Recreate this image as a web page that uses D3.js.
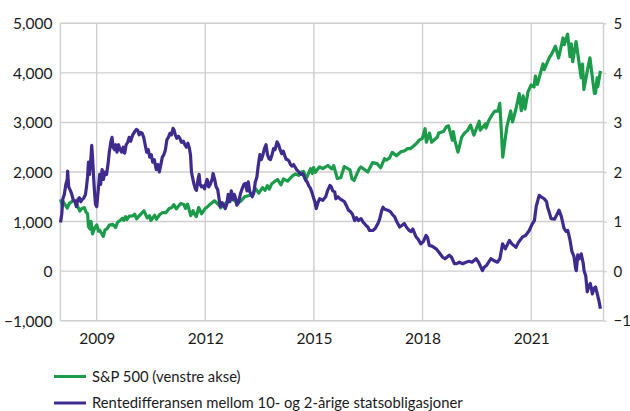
<!DOCTYPE html>
<html><head><meta charset="utf-8">
<script src="https://cdn.jsdelivr.net/npm/d3@7"></script>
<style>html,body{margin:0;padding:0;background:#fff}svg{display:block}text{font-family:Lato,"Open Sans",sans-serif;fill:#1a1a1a}</style>
</head><body><svg id="c" width="630" height="411"></svg>
<script>
const leftTicks = [-1000, 0, 1000, 2000, 3000, 4000, 5000];
const rightTicks = [-1, 0, 1, 2, 3, 4, 5];
const xTickYears = [2009, 2012, 2015, 2018, 2021];
const legendLabels = ["S&P 500 (venstre akse)", "Rentedifferansen mellom 10- og 2-årige statsobligasjoner"];

const spxDates = ["2008-01-02","2008-01-22","2008-02-01","2008-03-10","2008-04-01","2008-05-19","2008-06-01","2008-07-15","2008-08-01","2008-08-29","2008-09-15","2008-10-01","2008-10-10","2008-10-27","2008-11-04","2008-11-20","2008-12-01","2008-12-15",
"2009-01-02","2009-01-20","2009-02-01","2009-03-09","2009-03-26","2009-04-15","2009-05-08","2009-06-12","2009-07-10","2009-07-31","2009-08-28","2009-09-18","2009-10-02","2009-10-19","2009-11-02","2009-11-25","2009-12-31",
"2010-01-19","2010-02-08","2010-03-31","2010-04-23","2010-05-25","2010-06-18","2010-07-02","2010-08-09","2010-08-26","2010-09-30","2010-10-29","2010-11-30","2010-12-31",
"2011-01-31","2011-02-18","2011-03-16","2011-04-29","2011-05-31","2011-06-15","2011-07-07","2011-08-08","2011-08-31","2011-09-22","2011-10-03","2011-10-27","2011-11-25","2011-12-30",
"2012-01-31","2012-02-29","2012-04-02","2012-05-31","2012-06-04","2012-07-31","2012-08-31","2012-09-14","2012-10-31","2012-11-15","2012-12-31",
"2013-01-31","2013-02-28","2013-04-18","2013-05-21","2013-06-24","2013-07-31","2013-08-27","2013-09-18","2013-10-08","2013-10-31","2013-11-29","2013-12-31",
"2014-02-03","2014-02-28","2014-04-11","2014-05-30","2014-06-30","2014-07-31","2014-08-29","2014-09-19","2014-10-15","2014-11-28","2014-12-16","2014-12-29",
"2015-01-15","2015-02-27","2015-03-31","2015-05-21","2015-06-30","2015-07-20","2015-08-25","2015-09-29","2015-11-03","2015-12-31",
"2016-01-20","2016-02-11","2016-03-31","2016-04-20","2016-06-27","2016-08-15","2016-09-30","2016-11-04","2016-12-13","2016-12-30",
"2017-01-31","2017-03-01","2017-04-13","2017-05-31","2017-06-30","2017-07-31","2017-08-31","2017-09-29","2017-10-31","2017-11-30","2017-12-29",
"2018-01-26","2018-02-08","2018-03-12","2018-04-02","2018-05-31","2018-06-12","2018-07-31","2018-08-29","2018-09-20","2018-10-29","2018-11-07","2018-11-23","2018-12-24",
"2019-01-31","2019-02-28","2019-03-29","2019-04-30","2019-06-03","2019-07-26","2019-08-05","2019-09-30","2019-10-03","2019-10-31","2019-11-29","2019-12-31",
"2020-01-31","2020-02-19","2020-03-20","2020-04-30","2020-06-08","2020-06-26","2020-07-31","2020-09-02","2020-09-23","2020-10-12","2020-10-30","2020-11-30","2020-12-31",
"2021-01-29","2021-02-12","2021-03-04","2021-04-30","2021-05-12","2021-06-30","2021-07-30","2021-09-02","2021-10-04","2021-11-18","2021-11-30","2021-12-31",
"2022-01-03","2022-01-27","2022-02-09","2022-02-23","2022-03-29","2022-05-02","2022-05-20","2022-06-02","2022-06-16","2022-07-29","2022-08-16","2022-09-30","2022-10-12","2022-10-28","2022-11-03","2022-11-30"];
const spxValues = [1447,1310,1395,1273,1370,1426,1400,1214,1260,1282,1192,1160,899,848,1005,752,816,880,
931,805,825,700,832,852,929,946,879,987,1028,1068,1025,1097,1042,1110,1115,
1150,1056,1169,1217,1074,1117,1022,1127,1047,1141,1183,1180,1258,
1286,1343,1257,1363,1345,1265,1353,1119,1219,1129,1099,1285,1158,1257,
1312,1366,1419,1310,1278,1379,1406,1465,1412,1353,1426,
1498,1515,1541,1669,1573,1686,1630,1725,1655,1757,1806,1848,
1742,1859,1815,1924,1960,1931,2003,2011,1862,2068,1972,2090,
1992,2105,2068,2131,2063,2128,1868,1884,2109,2044,
1859,1829,2060,2102,2000,2190,2168,2085,2271,2239,
2279,2396,2329,2412,2423,2470,2471,2519,2575,2648,2674,
2873,2600,2786,2600,2705,2786,2816,2914,2931,2641,2814,2633,2400,
2704,2784,2834,2946,2744,3025,2844,2977,2887,3038,3141,3231,
3226,3386,2300,2912,3232,3009,3271,3580,3237,3535,3270,3622,3756,
3714,3934,3768,4181,4063,4298,4395,4537,4300,4704,4567,4766,
4780,4326,4587,4225,4632,4155,3901,4176,3667,4130,4305,3586,3590,3901,3720,4040];

const spreadDates = ["2008-01-02","2008-01-15","2008-01-25","2008-02-10","2008-02-25","2008-03-10","2008-03-14","2008-03-25","2008-04-10","2008-04-25","2008-05-10","2008-05-25","2008-06-10","2008-06-25","2008-07-10","2008-07-25","2008-08-10","2008-08-25","2008-09-10","2008-09-20","2008-10-01","2008-10-10","2008-10-20","2008-11-01","2008-11-12","2008-11-20","2008-12-01","2008-12-10","2008-12-20",
"2009-01-02","2009-01-15","2009-01-31","2009-02-10","2009-02-25","2009-03-10","2009-03-25","2009-04-10","2009-04-25","2009-05-08","2009-05-25","2009-06-05","2009-06-15","2009-06-30","2009-07-12","2009-07-25","2009-08-10","2009-08-25","2009-09-10","2009-09-25","2009-10-10","2009-10-25","2009-11-10","2009-11-25","2009-12-10","2009-12-31",
"2010-01-15","2010-02-05","2010-02-20","2010-03-05","2010-03-20","2010-04-05","2010-04-20","2010-05-05","2010-05-20","2010-06-05","2010-06-20","2010-07-05","2010-07-20","2010-08-05","2010-08-25","2010-09-10","2010-09-25","2010-10-10","2010-10-25","2010-11-10","2010-11-25","2010-12-10","2010-12-25",
"2011-01-10","2011-01-25","2011-02-10","2011-02-20","2011-03-05","2011-03-20","2011-04-05","2011-04-20","2011-05-05","2011-05-25","2011-06-10","2011-06-25","2011-07-10","2011-07-25","2011-08-05","2011-08-15","2011-08-25","2011-09-10","2011-09-25","2011-10-05","2011-10-20","2011-10-31","2011-11-10","2011-11-25","2011-12-10","2011-12-25",
"2012-01-05","2012-01-20","2012-02-05","2012-02-20","2012-03-10","2012-03-20","2012-04-05","2012-04-20","2012-05-05","2012-05-20","2012-06-01","2012-06-20","2012-07-05","2012-07-20","2012-08-05","2012-08-20","2012-09-05","2012-09-20","2012-10-05","2012-10-20","2012-11-05","2012-11-15","2012-12-01","2012-12-20",
"2013-01-05","2013-01-25","2013-02-10","2013-02-25","2013-03-10","2013-03-25","2013-04-10","2013-04-20","2013-05-05","2013-05-20","2013-06-05","2013-06-20","2013-07-05","2013-07-20","2013-08-05","2013-08-20","2013-09-05","2013-09-20","2013-10-05","2013-10-20","2013-11-05","2013-11-20","2013-12-05","2013-12-25",
"2014-01-10","2014-01-25","2014-02-10","2014-02-25","2014-03-10","2014-03-25","2014-04-10","2014-04-25","2014-05-10","2014-05-25","2014-06-10","2014-06-25","2014-07-10","2014-07-25","2014-08-10","2014-08-25","2014-09-10","2014-09-25","2014-10-10","2014-10-25","2014-11-10","2014-11-25","2014-12-10","2014-12-25",
"2015-01-10","2015-01-25","2015-02-10","2015-02-28","2015-04-01","2015-04-30","2015-05-20","2015-06-12","2015-06-25","2015-07-10","2015-07-30","2015-08-10","2015-09-01","2015-09-25","2015-10-15","2015-11-05","2015-11-25","2015-12-15",
"2016-01-05","2016-01-25","2016-02-15","2016-03-05","2016-03-25","2016-04-20","2016-05-15","2016-06-10","2016-06-28","2016-07-15","2016-08-18","2016-09-10","2016-10-08","2016-10-25","2016-11-15","2016-11-28","2016-12-15",
"2017-01-15","2017-02-10","2017-03-08","2017-03-25","2017-04-15","2017-05-15","2017-06-05","2017-07-01","2017-07-25","2017-08-20","2017-09-08","2017-09-25","2017-10-25","2017-11-15","2017-12-15",
"2018-01-10","2018-02-05","2018-02-20","2018-03-10","2018-04-10","2018-05-18","2018-06-15","2018-07-23","2018-08-15","2018-09-27","2018-10-20","2018-11-18","2018-12-10",
"2019-01-08","2019-02-10","2019-03-14","2019-04-15","2019-05-15","2019-06-25","2019-07-20","2019-08-28","2019-09-15","2019-10-10","2019-11-20","2019-12-15",
"2020-01-25","2020-02-20","2020-03-18","2020-04-15","2020-05-26","2020-06-20","2020-07-31","2020-08-25","2020-10-05","2020-11-05","2020-12-12",
"2021-01-10","2021-02-02","2021-02-20","2021-03-22","2021-04-10","2021-05-12","2021-06-05","2021-06-15","2021-06-30","2021-07-20","2021-08-25","2021-10-08","2021-11-01","2021-11-28","2021-12-20",
"2022-01-05","2022-01-28","2022-02-15","2022-03-08","2022-03-25","2022-04-01","2022-04-15","2022-05-01","2022-05-20","2022-06-10","2022-06-18","2022-07-05","2022-07-20","2022-08-05","2022-08-20","2022-09-10","2022-09-25","2022-10-12","2022-10-28","2022-11-15","2022-11-30"];
const spreadValues = [0.98,1.15,1.45,1.55,1.75,1.85,2.02,1.70,1.63,1.55,1.43,1.42,1.30,1.45,1.48,1.40,1.45,1.48,1.55,1.70,1.90,2.20,1.95,2.20,2.54,2.30,1.90,1.60,1.35,
1.30,1.60,1.95,1.75,2.05,1.85,2.00,1.95,2.15,2.40,2.62,2.70,2.50,2.45,2.55,2.40,2.55,2.45,2.40,2.50,2.38,2.55,2.60,2.70,2.62,2.75,
2.80,2.86,2.84,2.75,2.80,2.78,2.70,2.55,2.40,2.45,2.30,2.35,2.20,2.25,2.05,2.15,2.00,2.15,2.30,2.35,2.45,2.65,2.70,
2.78,2.75,2.88,2.85,2.75,2.68,2.72,2.68,2.60,2.62,2.55,2.50,2.58,2.48,2.35,2.00,1.90,1.75,1.65,1.63,1.85,1.95,1.75,1.70,1.72,1.66,
1.75,1.85,1.70,1.75,1.85,1.97,1.85,1.70,1.65,1.45,1.30,1.38,1.33,1.26,1.35,1.55,1.40,1.62,1.45,1.55,1.45,1.33,1.38,1.55,
1.65,1.75,1.77,1.62,1.80,1.60,1.55,1.50,1.58,1.80,1.90,2.15,2.35,2.25,2.35,2.47,2.55,2.35,2.27,2.25,2.35,2.47,2.45,2.61,
2.55,2.45,2.37,2.42,2.35,2.26,2.25,2.22,2.15,2.12,2.15,2.10,2.05,2.02,1.98,1.95,1.97,1.90,1.83,1.80,1.72,1.68,1.60,1.50,
1.40,1.26,1.38,1.46,1.43,1.50,1.63,1.73,1.70,1.62,1.60,1.46,1.50,1.45,1.43,1.40,1.32,1.23,
1.20,1.15,1.02,1.08,1.02,1.06,0.98,0.92,0.89,0.82,0.82,0.86,0.96,1.05,1.22,1.29,1.25,
1.23,1.20,1.13,1.10,1.00,0.89,0.92,0.96,0.88,0.82,0.80,0.85,0.70,0.65,0.55,
0.60,0.72,0.68,0.52,0.50,0.45,0.38,0.28,0.25,0.32,0.28,0.15,0.15,
0.18,0.15,0.18,0.20,0.18,0.25,0.18,0.01,0.08,0.12,0.25,0.22,
0.18,0.25,0.55,0.45,0.62,0.55,0.48,0.58,0.69,0.72,0.82,
0.95,1.02,1.30,1.53,1.50,1.46,1.40,1.29,1.20,1.06,1.05,1.23,1.10,0.86,0.80,
0.82,0.62,0.40,0.30,0.05,0.01,0.33,0.25,0.35,0.15,0.01,-0.10,-0.42,-0.30,-0.25,-0.46,-0.35,-0.32,-0.45,-0.60,-0.76];

const parse = d3.timeParse("%Y-%m-%d");
const svg = d3.select("#c");
const L = 60.4, R = 603.5, T = 23.3, B = 320.7;
const x = d3.scaleTime().domain([parse("2008-01-01"), parse("2022-12-31")]).range([L, R]);
const yL = d3.scaleLinear().domain([-1000, 5000]).range([B, T]);
const yR = d3.scaleLinear().domain([-1, 5]).range([B, T]);
const grid = "#cfcfcf";
const fs = 15.5;

svg.append("g").selectAll("line").data(leftTicks).join("line")
  .attr("x1", L).attr("x2", R).attr("y1", d => yL(d)).attr("y2", d => yL(d))
  .attr("stroke", grid).attr("stroke-width", 1.4);
svg.append("g").selectAll("line").data(xTickYears).join("line")
  .attr("x1", d => x(new Date(d, 0, 1))).attr("x2", d => x(new Date(d, 0, 1)))
  .attr("y1", T).attr("y2", B).attr("stroke", grid).attr("stroke-width", 1.4);
svg.append("line").attr("x1", L).attr("x2", L).attr("y1", T).attr("y2", B).attr("stroke", grid).attr("stroke-width", 1.4);
svg.append("line").attr("x1", R).attr("x2", R).attr("y1", T).attr("y2", B).attr("stroke", grid).attr("stroke-width", 1.4);

const axL = svg.append("g").attr("transform", `translate(${L - 8},0)`)
  .call(d3.axisLeft(yL).tickValues(leftTicks).tickSize(0).tickPadding(0).tickFormat(d3.format(",")));
axL.select(".domain").remove();
axL.selectAll("text").attr("font-size", fs).attr("dy", "0.35em").attr("font-family", "Lato");
const axR = svg.append("g").attr("transform", `translate(${R},0)`)
  .call(d3.axisRight(yR).tickValues(rightTicks).tickSize(3).tickPadding(7).tickFormat(d3.format("d")));
axR.select(".domain").remove();
axR.selectAll("line").attr("stroke", grid).attr("stroke-width", 1.4);
axR.selectAll("text").attr("font-size", 15).attr("dy", "0.35em").attr("font-family", "Lato");
const axB = svg.append("g").attr("transform", `translate(0,${B})`)
  .call(d3.axisBottom(x).tickValues(xTickYears.map(d => new Date(d, 0, 1))).tickSize(0).tickPadding(12).tickFormat(d3.timeFormat("%Y")));
axB.select(".domain").remove();
axB.selectAll("text").attr("font-size", fs).attr("font-family", "Lato");

const spx = spxDates.map((d, i) => ({ d: parse(d), v: spxValues[i] }));
const spr = spreadDates.map((d, i) => ({ d: parse(d), v: spreadValues[i] }));
const green = "#1c9c4a", purple = "#3f2b8e";

svg.append("path").datum(spx).attr("fill", "none").attr("stroke", green).attr("stroke-width", 3.2)
  .attr("stroke-linejoin", "round")
  .attr("d", d3.line().x(d => x(d.d)).y(d => yL(d.v)));
svg.append("path").datum(spr).attr("fill", "none").attr("stroke", purple).attr("stroke-width", 3.2)
  .attr("stroke-linejoin", "round")
  .attr("d", d3.line().x(d => x(d.d)).y(d => yR(d.v)));

const leg = svg.append("g");
const legY = [376.5, 403];
const legC = [green, purple];
legendLabels.forEach((t, i) => {
  leg.append("line").attr("x1", 54).attr("x2", 86).attr("y1", legY[i]).attr("y2", legY[i])
    .attr("stroke", legC[i]).attr("stroke-width", 3);
  leg.append("text").attr("x", 92).attr("y", legY[i]).attr("dy", "0.35em")
    .attr("font-size", 14.8).attr("font-family", "Lato").text(t);
});
</script></body></html>
